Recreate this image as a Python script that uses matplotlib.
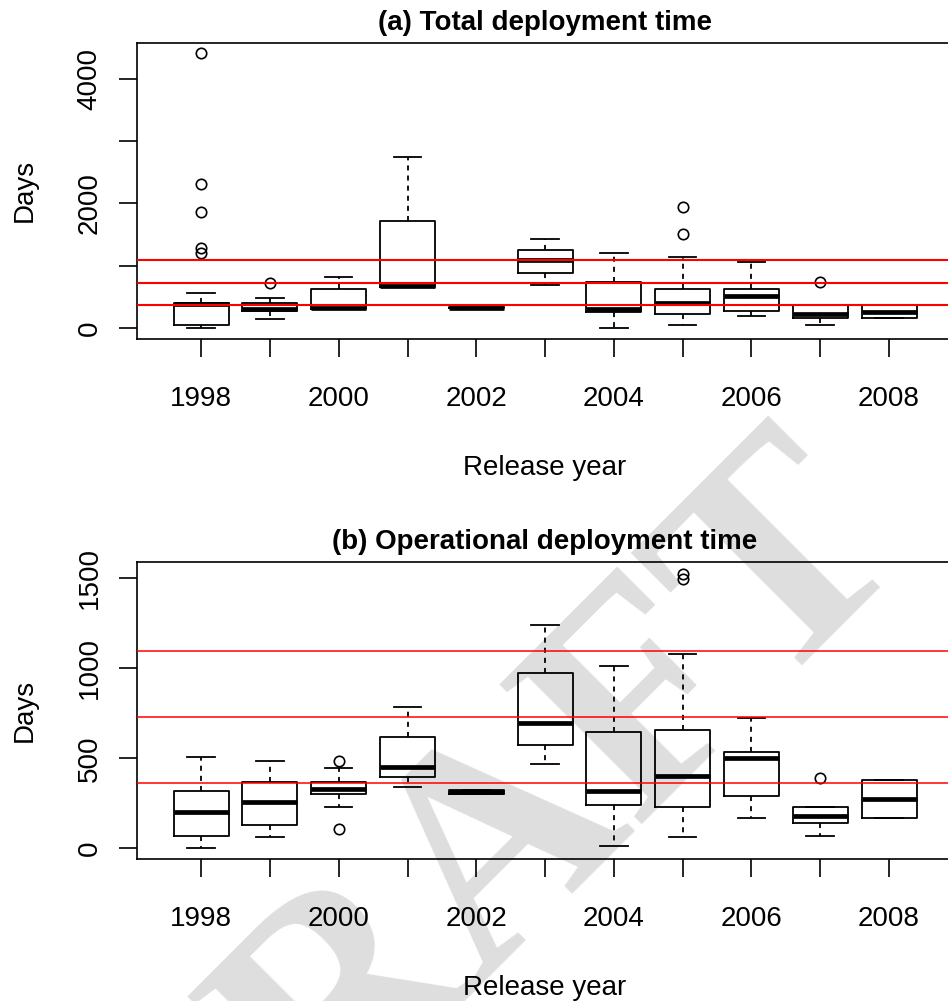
import matplotlib
matplotlib.use("Agg")
import matplotlib.pyplot as plt

plt.rcParams['font.family'] = ['Liberation Sans', 'DejaVu Sans']

years = [1998, 1999, 2000, 2001, 2002, 2003, 2004, 2005, 2006, 2007, 2008]

# (a) total deployment time, days
tot_q1 = [50, 281, 308, 655, 320, 885, 255, 222, 281, 158, 158]
tot_med = [385, 300, 325, 670, 330, 1093, 307, 409, 516, 225, 265]
tot_q3 = [400, 399, 623, 1718, 340, 1253, 740, 623, 623, 372, 372]
tot_lo = [0, 142, 308, 655, 320, 687, 0, 51, 196, 51, 158]
tot_hi = [569, 484, 820, 2748, 340, 1429, 1200, 1146, 1056, 372, 372]
tot_out = [[1200, 1280, 1857, 2316, 4405], [719], [], [], [], [], [], [1510, 1937], [], [746], []]

# (b) operational deployment time, days
op_q1 = [68, 131, 300, 398, 300, 576, 239, 229, 291, 139, 170]
op_med = [200, 259, 328, 450, 312, 698, 320, 400, 500, 181, 272]
op_q3 = [320, 370, 370, 617, 325, 974, 646, 655, 537, 229, 378]
op_lo = [0, 61, 229, 341, 300, 467, 13, 63, 170, 70, 170]
op_hi = [509, 487, 448, 785, 325, 1241, 1013, 1081, 726, 229, 378]
op_out = [[], [], [109, 487], [], [], [], [], [1494, 1522], [], [391], []]

year_lines = [365, 730, 1095]

W, H = 948, 1001
fig = plt.figure(figsize=(W / 100, H / 100), dpi=100)

# faint watermark behind the plots
fig.text(0.515, 0.132, "DRAFT", fontsize=220, family='Liberation Serif', fontweight='bold',
         color='#dedede', rotation=45, ha='center', va='center', zorder=-1)


def panel(rect, q1, med, q3, lo, hi, out, ylim, yticks, ylabels, title, red_lw):
    ax = fig.add_axes(rect)
    ax.patch.set_alpha(0)
    stats = []
    for i in range(len(years)):
        stats.append(dict(q1=q1[i], med=med[i], q3=q3[i], whislo=lo[i],
                          whishi=hi[i], fliers=out[i]))
    pos = list(range(1, len(years) + 1))
    ax.bxp(stats, positions=pos, widths=0.8, capwidths=0.4, manage_ticks=False,
           boxprops=dict(color='black', lw=1.3),
           medianprops=dict(color='black', lw=3.4, solid_capstyle='butt'),
           whiskerprops=dict(color='black', lw=1.3, linestyle=(0, (2.8, 2.8))),
           capprops=dict(color='black', lw=1.3),
           flierprops=dict(marker='o', markerfacecolor='none', markeredgecolor='black',
                           markersize=7.5, markeredgewidth=1.2))
    for v in year_lines:
        ax.axhline(v, color='red', lw=red_lw, zorder=5)
    ax.set_xlim(0.06, 11.94)
    ax.set_ylim(*ylim)
    ax.set_xticks(pos)
    ax.set_xticklabels([str(y) if i % 2 == 0 else '' for i, y in enumerate(years)])
    ax.set_yticks(yticks)
    ax.set_yticklabels(ylabels, rotation=90, va='center')
    ax.tick_params(axis='both', direction='out', length=13, width=1.2, labelsize=20)
    ax.tick_params(axis='x', pad=21)
    ax.tick_params(axis='y', pad=11.5)
    for s in ax.spines.values():
        s.set_linewidth(1.2)
    ax.set_title(title, fontsize=20, fontweight='bold', pad=9)
    ax.set_xlabel("Release year", fontsize=20, labelpad=31)
    ax.set_ylabel("Days", fontsize=20, labelpad=28)
    return ax


left = 136.5 / W
width = 817.2 / W
panel([left, (H - 339) / H, width, 296.3 / H], tot_q1, tot_med, tot_q3, tot_lo, tot_hi,
      tot_out, (-173, 4575), [0, 1000, 2000, 3000, 4000], ['0', '', '2000', '', '4000'],
      "(a) Total deployment time", 1.5)
panel([left, (H - 858.7) / H, width, 297 / H], op_q1, op_med, op_q3, op_lo, op_hi,
      op_out, (-58, 1592), [0, 500, 1000, 1500], ['0', '500', '1000', '1500'],
      "(b) Operational deployment time", 1.1)

fig.savefig("out.png", dpi=100)
